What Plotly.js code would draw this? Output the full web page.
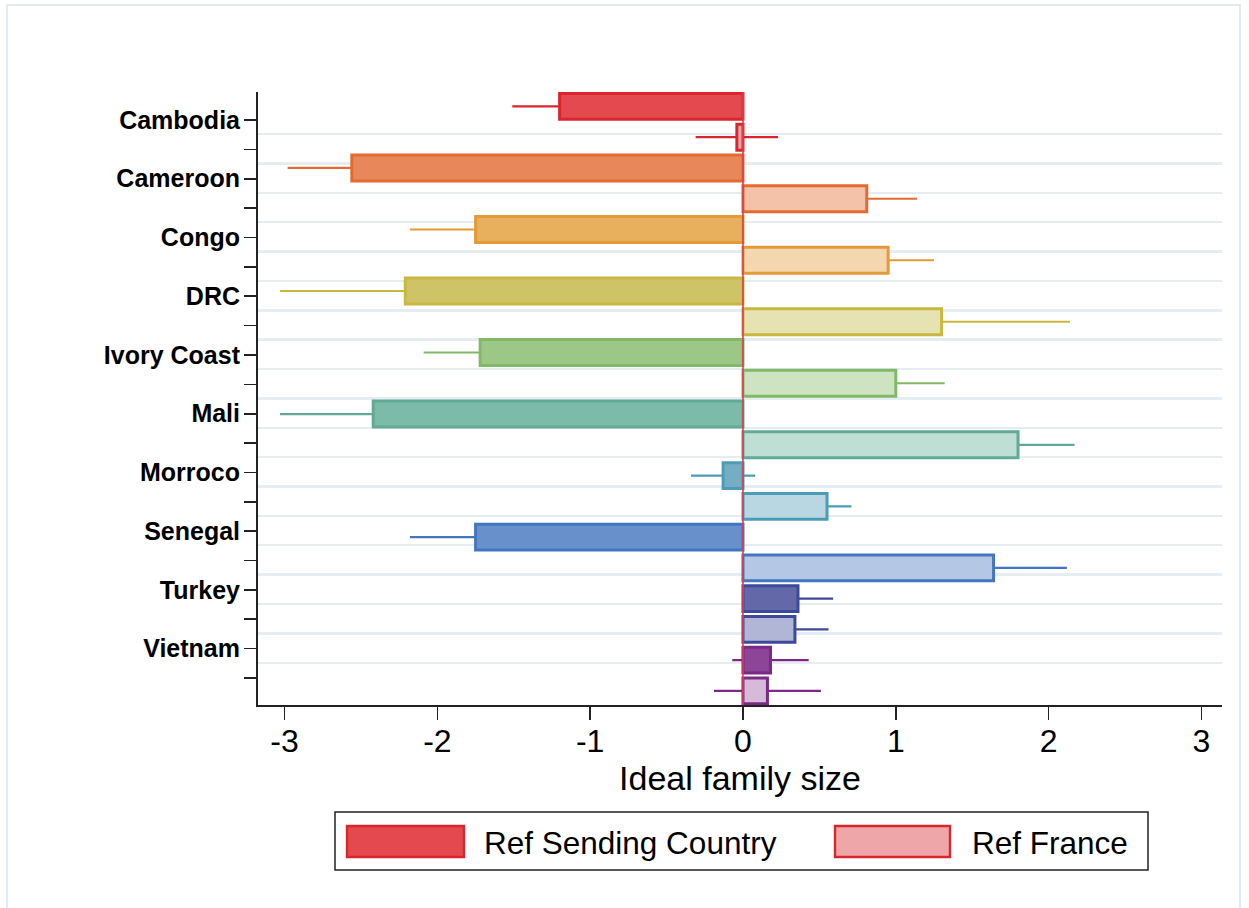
<!DOCTYPE html>
<html>
<head>
<meta charset="utf-8">
<script src="https://cdn.plot.ly/plotly-3.0.1.min.js"></script>
<style>
html,body{margin:0;padding:0;background:#ffffff;}
#chart{width:1249px;height:908px;}
</style>
</head>
<body>
<div id="chart"></div>
<script>
// ---------- data ----------
const countries = ['Cambodia','Cameroon','Congo','DRC','Ivory Coast','Mali','Morroco','Senegal','Turkey','Vietnam'];
const sendingValues = [-1.20, -2.56, -1.75, -2.21, -1.72, -2.42, -0.13, -1.75, 0.36, 0.18];
const sendingCI     = [ 0.31,  0.42,  0.43,  0.82,  0.37,  0.61,  0.21,  0.43, 0.23, 0.25];
const franceValues  = [-0.04,  0.81,  0.95,  1.30,  1.00,  1.80,  0.55,  1.64, 0.34, 0.16];
const franceCI      = [ 0.27,  0.33,  0.30,  0.84,  0.32,  0.37,  0.16,  0.48, 0.22, 0.35];
const seriesNames = ['Ref Sending Country', 'Ref France'];
const xTickValues = [-3, -2, -1, 0, 1, 2, 3];
const xTickLabels = ['-3', '-2', '-1', '0', '1', '2', '3'];
const xAxisTitle = 'Ideal family size';

// ---------- styles ----------
const sendingFill  = ['#e3494e','#e8885a','#e8b05d','#cfc367','#9dc787','#7dbba9','#74aec5','#6890ca','#6369a8','#8d4597'];
const franceFill   = ['#eea6a9','#f4c1a9','#f4d7ae','#e6e3b2','#cee3c2','#bfdfd5','#b9d7e2','#b4c7e5','#b1b5d6','#d5bbd8'];
const borderColors = ['#d9262c','#e56a30','#e39b38','#c8b840','#80ba67','#60aa96','#4d9cb6','#4276c0','#3d4a9b','#7b2987'];
const FONT = 'Liberation Sans, Arial, Helvetica, sans-serif';

// plot-area geometry in pixels
const W = 1249, H = 908;
const L = 258, R = 1222, T = 92, B = 705;
const pxX = p => (p - L) / (R - L);
const pxY = p => (B - p) / (B - T);

// bar slots: sending at even slots, France at odd slots
const sendingSlots = countries.map((c, i) => 2 * i);
const franceSlots  = countries.map((c, i) => 2 * i + 1);

// label axis: 20 ticks, countries on every second one
const tickSlots = [];
const tickText = [];
countries.forEach((c, i) => {
  tickSlots.push(2 * i, 2 * i + 1);
  tickText.push(c, '');
});
const gridSlots = tickSlots.slice(0, -1).map(k => k + 0.48);

const traces = [];
// invisible anchor trace for the label axis
traces.push({
  type: 'scatter', mode: 'markers', x: [0], y: [tickSlots[0]], yaxis: 'y',
  marker: {opacity: 0, size: 1}, showlegend: false, hoverinfo: 'skip'
});
// CI lines first (drawn beneath the bars)
countries.forEach((c, i) => {
  traces.push({
    type: 'bar', orientation: 'h', yaxis: 'y2',
    x: [sendingValues[i], franceValues[i]],
    y: [sendingSlots[i], franceSlots[i]],
    width: 0.84,
    marker: {color: 'rgba(0,0,0,0)', line: {width: 0}},
    error_x: {type: 'data', symmetric: true, array: [sendingCI[i], franceCI[i]],
              color: borderColors[i], thickness: 2.2, width: 0},
    showlegend: false, hoverinfo: 'skip'
  });
});
traces.push({
  type: 'bar', orientation: 'h', yaxis: 'y2', name: seriesNames[0],
  x: sendingValues, y: sendingSlots, width: 0.84,
  text: countries, hoverinfo: 'text+x', textposition: 'none',
  marker: {color: sendingFill, line: {color: borderColors, width: 3}}
});
traces.push({
  type: 'bar', orientation: 'h', yaxis: 'y2', name: seriesNames[1],
  x: franceValues, y: franceSlots, width: 0.84,
  text: countries, hoverinfo: 'text+x', textposition: 'none',
  marker: {color: franceFill, line: {color: borderColors, width: 3}}
});

// custom legend (large swatches)
const legY0 = pxY(826), legY1 = pxY(857), legYc = pxY(843);
const shapes = [
  {type: 'rect', xref: 'paper', yref: 'paper', x0: pxX(7), x1: pxX(1240), y0: pxY(915), y1: pxY(5),
   line: {color: '#e3ebf0', width: 2}, fillcolor: 'rgba(0,0,0,0)', layer: 'below'},
  {type: 'line', xref: 'x', yref: 'paper', x0: 0, x1: 0, y0: 0, y1: 1,
   line: {color: '#d8404f', width: 1.6}, layer: 'above'},
  {type: 'rect', xref: 'paper', yref: 'paper', x0: pxX(335), x1: pxX(1148), y0: pxY(870), y1: pxY(812),
   line: {color: '#222222', width: 1.5}, fillcolor: '#ffffff'},
  {type: 'rect', xref: 'paper', yref: 'paper', x0: pxX(347), x1: pxX(464), y0: legY1, y1: legY0,
   line: {color: borderColors[0], width: 2.4}, fillcolor: sendingFill[0]},
  {type: 'rect', xref: 'paper', yref: 'paper', x0: pxX(835), x1: pxX(950), y0: legY1, y1: legY0,
   line: {color: borderColors[0], width: 2.4}, fillcolor: franceFill[0]}
];
const annotations = [
  {xref: 'paper', yref: 'paper', x: pxX(482), y: legYc, xanchor: 'left', yanchor: 'middle',
   text: seriesNames[0], showarrow: false, font: {family: FONT, size: 31.5, color: '#000'}},
  {xref: 'paper', yref: 'paper', x: pxX(970), y: legYc, xanchor: 'left', yanchor: 'middle',
   text: seriesNames[1], showarrow: false, font: {family: FONT, size: 31.5, color: '#000'}}
];

const layout = {
  width: W, height: H,
  margin: {l: L, r: W - R, t: T, b: H - B, pad: 0},
  paper_bgcolor: '#ffffff', plot_bgcolor: '#ffffff',
  barmode: 'overlay',
  showlegend: false,
  font: {family: FONT, color: '#000'},
  xaxis: {
    range: [-3.174, 3.135], tickmode: 'array', tickvals: xTickValues, ticktext: xTickLabels,
    ticks: 'outside', ticklen: 13, tickwidth: 1.6, tickcolor: '#222',
    showline: true, linecolor: '#222', linewidth: 2, showgrid: false, zeroline: false,
    tickfont: {family: FONT, size: 32, color: '#000'}, ticklabelstandoff: -6,
    title: {text: xAxisTitle, font: {family: FONT, size: 34, color: '#000'}, standoff: 0},
    automargin: false, fixedrange: true
  },
  yaxis: {
    range: [19.918, -0.953], tickmode: 'array', tickvals: tickSlots, ticktext: tickText,
    ticks: 'outside', ticklen: 12, tickwidth: 1.6, tickcolor: '#222',
    showline: true, linecolor: '#222', linewidth: 2, zeroline: false,
    showgrid: false,
    minor: {tickmode: 'array', tickvals: gridSlots, showgrid: true, gridcolor: '#e6edf2', gridwidth: 2.4, ticks: ''},
    tickfont: {family: FONT, size: 25, color: '#000', weight: 'bold'}, ticklabelstandoff: -1,
    automargin: false, fixedrange: true
  },
  yaxis2: {
    overlaying: 'y', range: [19.46, -0.47], showticklabels: false, ticks: '', showgrid: false,
    zeroline: false, showline: false, fixedrange: true
  },
  shapes: shapes,
  annotations: annotations
};

Plotly.newPlot('chart', traces, layout, {displayModeBar: false, staticPlot: true});
</script>
</body>
</html>
